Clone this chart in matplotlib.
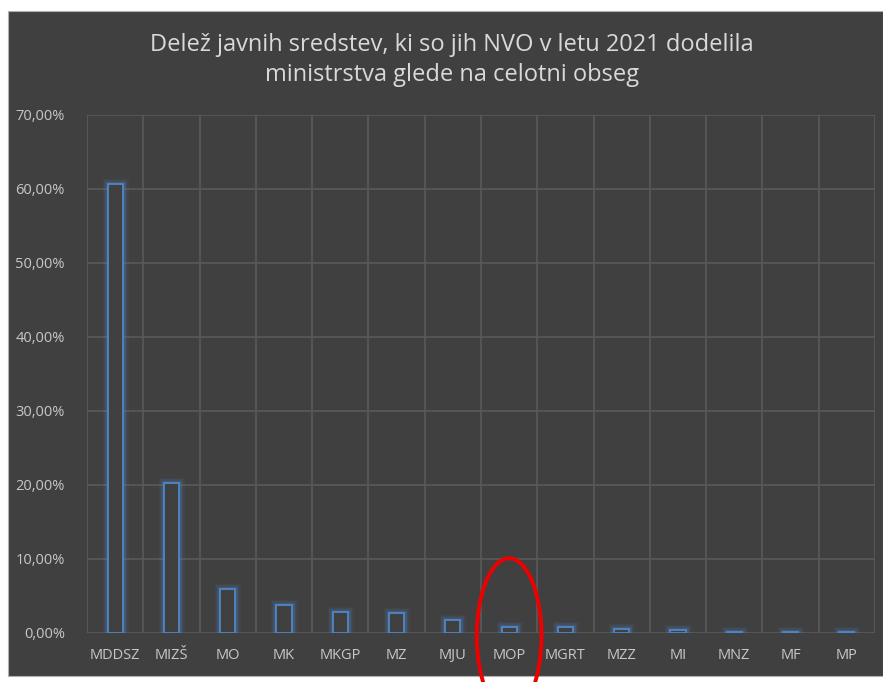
import matplotlib.pyplot as plt
from matplotlib.patches import Rectangle, Ellipse
from matplotlib.ticker import FuncFormatter, MultipleLocator
import numpy as np


# --------------------------------------------------------
# Data
# --------------------------------------------------------

ministries = [
    "MDDSZ", "MIZŠ", "MO", "MK", "MKGP", "MZ", "MJU",
    "MOP", "MGRT", "MZZ", "MI", "MNZ", "MF", "MP",
]

shares = [
    60.7, 20.3, 5.9, 3.8, 2.8, 2.7, 1.8,
    0.8, 0.8, 0.5, 0.4, 0.2, 0.2, 0.2,
]

highlight = "MOP"

title = ("Delež javnih sredstev, ki so jih NVO v letu 2021 dodelila\n"
         "ministrstva glede na celotni obseg")


# --------------------------------------------------------
# Style
# --------------------------------------------------------

BG = "#404040"
GRID = "#5a5a5a"
TEXT = "#c8c8c8"
BAR = "#4f86c8"

plt.rcParams["font.family"] = ["Open Sans", "DejaVu Sans"]

W, H = 883, 682
fig = plt.figure(figsize=(W / 100, H / 100), dpi=100)
fig.patch.set_facecolor("white")

# dark chart area
fig.patches.append(Rectangle(
    (8 / W, 1 - 676 / H), 1 - 8 / W, (676 - 11) / H,
    transform=fig.transFigure, facecolor=BG, edgecolor="#b0b0b0",
    linewidth=0.8, zorder=-5,
))

ax = fig.add_axes([87 / W, 1 - 633 / H, (875 - 87) / W, (633 - 115) / H])
ax.set_facecolor(BG)

x = np.arange(len(ministries))

# glow
for lw, a in [(8, 0.08), (5.5, 0.14), (3.5, 0.22)]:
    ax.bar(x, shares, width=0.27, facecolor="none", edgecolor=BAR,
           linewidth=lw, alpha=a, zorder=3)

ax.bar(x, shares, width=0.27, facecolor=BG, edgecolor=BAR,
       linewidth=1.3, zorder=4)

ax.set_xlim(-0.5, len(ministries) - 0.5)
ax.set_ylim(0, 70)
ax.yaxis.set_major_locator(MultipleLocator(10))
ax.yaxis.set_major_formatter(FuncFormatter(
    lambda v, p: f"{v:.2f}".replace(".", ",") + "%"))

ax.set_xticks(x)
ax.set_xticklabels(ministries)
ax.set_xticks(np.arange(-0.5, len(ministries)), minor=True)

ax.grid(axis="y", which="major", color=GRID, linewidth=1.2, zorder=1)
ax.grid(axis="x", which="minor", color=GRID, linewidth=1.2, zorder=1)

ax.tick_params(axis="both", which="both", length=0, colors=TEXT,
               labelsize=10.5)
ax.tick_params(axis="x", pad=11)
ax.tick_params(axis="y", pad=16)

for s in ax.spines.values():
    s.set_visible(False)

fig.text(452 / W, 1 - 60 / H, title, ha="center", va="center",
         color="#d9d9d9", fontsize=17, linespacing=1.35)

# red ellipse round the highlighted ministry
hi = ministries.index(highlight)
ax.add_patch(Ellipse(
    (hi, -0.4), 1.15, 21, facecolor="none", edgecolor="#ee0000",
    linewidth=2.8, clip_on=False, zorder=6,
))

fig.savefig("out.png", dpi=100)
